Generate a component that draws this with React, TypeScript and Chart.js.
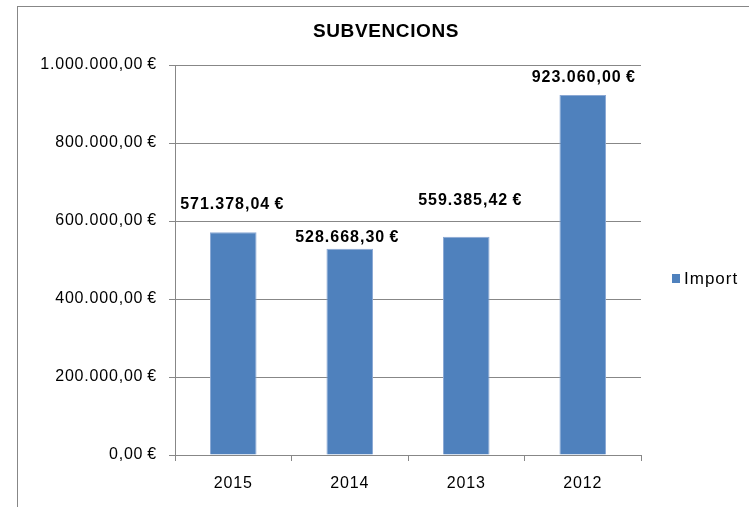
import React, { useEffect, useRef } from "react";
import { Chart, registerables } from "chart.js";

Chart.register(...registerables);

const TITLE = "SUBVENCIONS";
const SERIES_LABEL = "Import";
const YEARS = ["2015", "2014", "2013", "2012"];
const IMPORT_VALUES = [571378.04, 528668.3, 559385.42, 923060.0];
const Y_MAX = 1000000;
const Y_STEP = 200000;
// Excel's label placement nudges (pixels, relative to the bar top / centre)
const LABEL_LIFT = [28, 11, 36, 17];
const LABEL_SHIFT = [-1, -2.5, 4, 1];

const BAR_COLOR = "#4f81bd";
const GRID_COLOR = "#878787";
const FONT = "Arial, 'Liberation Sans', sans-serif";

function formatEuro(v: number): string {
  const fixed = Math.abs(v).toFixed(2);
  const [intPart, dec] = fixed.split(".");
  const withDots = intPart.replace(/\B(?=(\d{3})+(?!\d))/g, ".");
  return (v < 0 ? "-" : "") + withDots + "," + dec + "\u2009€";
}

const spacingPlugin = {
  id: "spacing",
  beforeUpdate(chart: any) {
    chart.ctx.letterSpacing = "0.8px";
  },
  beforeDraw(chart: any) {
    const ctx = chart.ctx;
    ctx.letterSpacing = "0.8px";
    ctx.save();
    ctx.strokeStyle = GRID_COLOR;
    ctx.lineWidth = 1;
    ctx.strokeRect(17.5, 6.5, chart.width + 20, chart.height + 20);
    ctx.restore();
  },
};

const decorPlugin = {
  id: "decor",
  afterDraw(chart: any) {
    const ctx = chart.ctx;
    const area = chart.chartArea;
    ctx.save();
    // Title
    ctx.letterSpacing = "0.6px";
    ctx.fillStyle = "#000";
    ctx.font = `bold 19px ${FONT}`;
    ctx.textAlign = "center";
    ctx.textBaseline = "middle";
    ctx.fillText(TITLE, 386, 32);

    // Data labels
    ctx.letterSpacing = "1px";
    ctx.font = `bold 16px ${FONT}`;
    const meta = chart.getDatasetMeta(0);
    meta.data.forEach((bar: any, i: number) => {
      const v = chart.data.datasets[0].data[i] as number;
      ctx.fillText(formatEuro(v), bar.x + LABEL_SHIFT[i], bar.y - LABEL_LIFT[i]);
    });

    // Legend
    const ly = (area.top + area.bottom) / 2 + 18;
    ctx.fillStyle = BAR_COLOR;
    ctx.fillRect(672, ly - 4, 8, 9);
    ctx.fillStyle = "#000";
    ctx.letterSpacing = "1px";
    ctx.font = `17px ${FONT}`;
    ctx.textAlign = "left";
    ctx.fillText(chart.data.datasets[0].label, 684, ly + 1);
    ctx.restore();
  },
};

export default function App() {
  const ref = useRef<HTMLCanvasElement | null>(null);

  useEffect(() => {
    if (!ref.current) return;
    const chart = new Chart(ref.current, {
      type: "bar",
      data: {
        labels: YEARS,
        datasets: [
          {
            label: SERIES_LABEL,
            data: IMPORT_VALUES,
            backgroundColor: BAR_COLOR,
            borderColor: "#8aa8d4",
            borderWidth: 1,
            barPercentage: 0.4,
            categoryPercentage: 1,
          },
        ],
      },
      options: {
        responsive: false,
        animation: false,
        devicePixelRatio: 1,
        layout: { padding: { left: 0, right: 108, top: 65, bottom: 0 } },
        plugins: {
          legend: { display: false },
          title: { display: false },
          tooltip: { enabled: false },
        },
        scales: {
          x: {
            afterFit(scale: any) {
              scale.height = 52;
            },
            grid: {
              drawOnChartArea: false,
              offset: true,
              tickLength: 6,
              color: GRID_COLOR,
            },
            border: { color: GRID_COLOR, width: 1 },
            ticks: {
              color: "#000",
              font: { family: FONT, size: 16 },
              padding: 13,
            },
          },
          y: {
            min: 0,
            max: Y_MAX,
            afterFit(scale: any) {
              scale.width = 175;
            },
            grid: { color: GRID_COLOR, tickLength: 6 },
            border: { color: GRID_COLOR, width: 1 },
            ticks: {
              stepSize: Y_STEP,
              color: "#000",
              font: { family: FONT, size: 16 },
              padding: 12,
              callback: (v: any) => formatEuro(Number(v)),
            },
          },
        },
      },
      plugins: [spacingPlugin, decorPlugin],
    });
    return () => chart.destroy();
  }, []);

  return (
    <div style={{ position: "absolute", left: 0, top: 0, width: 749, height: 507, background: "#fff" }}>
      <canvas ref={ref} width={749} height={507} style={{ display: "block" }} />
    </div>
  );
}
